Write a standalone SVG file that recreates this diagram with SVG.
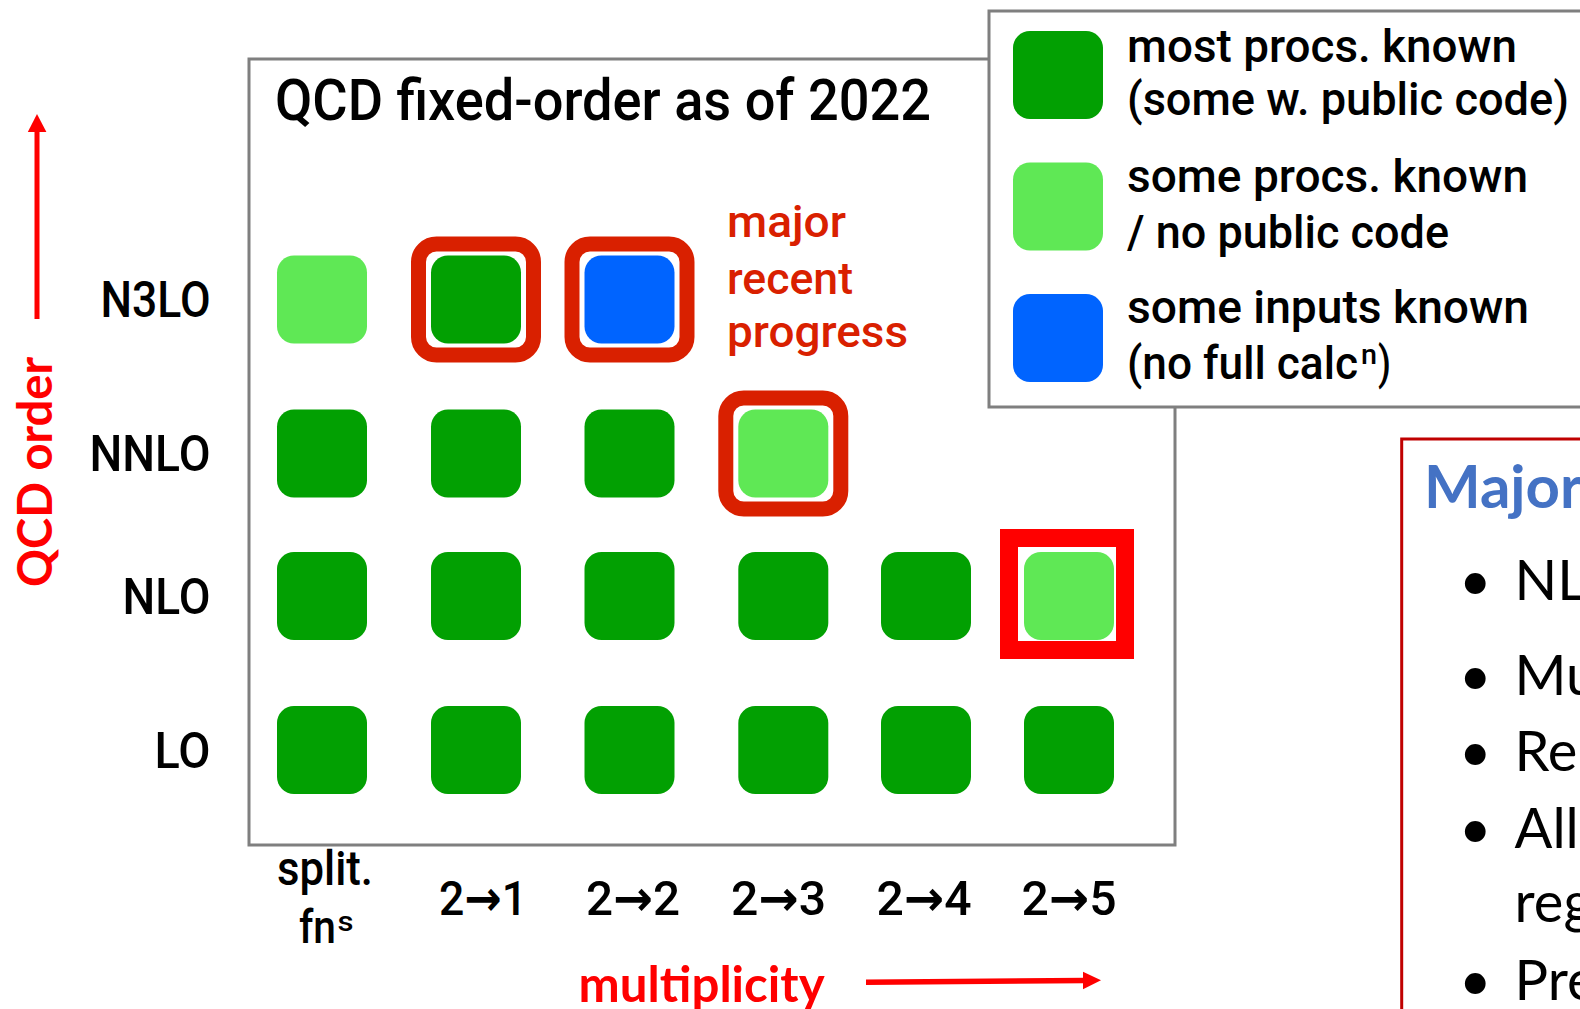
<svg xmlns="http://www.w3.org/2000/svg" width="1580" height="1009" viewBox="0 0 1580 1009">
<style>
  .din{font-family:Roboto,"Liberation Sans",sans-serif;font-weight:500;fill:#000}
  .lbl{font-size:50px;text-anchor:end}
  .col{font-size:49px;text-anchor:middle}
  .arr{font-family:"DejaVu Sans",sans-serif;font-weight:700}
  .leg{font-size:47px}
  .prog{font-size:45px;fill:#D92000}
  .cal{font-family:Lato,"Open Sans",sans-serif}
  .axis{font-weight:700;fill:#FF0000}
  .dk{fill:#02A002}
  .lt{fill:#5FE855}
  .bl{fill:#0064FF}
  .ring{fill:none;stroke:#D92000;stroke-width:15}
  .frame{fill:#fff;stroke:#7F7F7F;stroke-width:3}
  .bul{font-size:56px;fill:#000}
</style>
<rect width="1580" height="1009" fill="#fff"/>

<g id="main-frame">
  <rect class="frame" x="249" y="59" width="926" height="786"/>
  <text class="din" x="275" y="120" font-size="57" textLength="656" lengthAdjust="spacingAndGlyphs">QCD fixed-order as of 2022</text>
</g>

<g id="row-labels">
  <text class="din lbl" x="210.5" y="317" textLength="110" lengthAdjust="spacingAndGlyphs">N3LO</text>
  <text class="din lbl" x="210.5" y="471" textLength="121" lengthAdjust="spacingAndGlyphs">NNLO</text>
  <text class="din lbl" x="210.5" y="614" textLength="88" lengthAdjust="spacingAndGlyphs">NLO</text>
  <text class="din lbl" x="210.5" y="768" textLength="56" lengthAdjust="spacingAndGlyphs">LO</text>
</g>

<g id="grid">
  <g id="row-n3lo">
    <rect class="lt" x="277" y="255.5" width="90" height="88" rx="17"/>
    <rect class="dk" x="431" y="255.5" width="90" height="88" rx="17"/>
    <rect class="bl" x="584.5" y="255.5" width="90" height="88" rx="17"/>
  </g>
  <g id="row-nnlo">
    <rect class="dk" x="277" y="409.5" width="90" height="88" rx="17"/>
    <rect class="dk" x="431" y="409.5" width="90" height="88" rx="17"/>
    <rect class="dk" x="584.5" y="409.5" width="90" height="88" rx="17"/>
    <rect class="lt" x="738.3" y="409.5" width="90" height="88" rx="17"/>
  </g>
  <g id="row-nlo">
    <rect class="dk" x="277" y="552" width="90" height="88" rx="17"/>
    <rect class="dk" x="431" y="552" width="90" height="88" rx="17"/>
    <rect class="dk" x="584.5" y="552" width="90" height="88" rx="17"/>
    <rect class="dk" x="738.3" y="552" width="90" height="88" rx="17"/>
    <rect class="dk" x="881" y="552" width="90" height="88" rx="17"/>
    <rect class="lt" x="1024" y="552" width="90" height="88" rx="17"/>
  </g>
  <g id="row-lo">
    <rect class="dk" x="277" y="706" width="90" height="88" rx="17"/>
    <rect class="dk" x="431" y="706" width="90" height="88" rx="17"/>
    <rect class="dk" x="584.5" y="706" width="90" height="88" rx="17"/>
    <rect class="dk" x="738.3" y="706" width="90" height="88" rx="17"/>
    <rect class="dk" x="881" y="706" width="90" height="88" rx="17"/>
    <rect class="dk" x="1024" y="706" width="90" height="88" rx="17"/>
  </g>
</g>

<g id="highlights">
  <rect class="ring" x="418.5" y="244" width="115" height="111" rx="18"/>
  <rect class="ring" x="572" y="244" width="115" height="111" rx="18"/>
  <rect class="ring" x="725.8" y="398" width="115" height="111" rx="18"/>
  <rect x="1009" y="538" width="116" height="112" fill="none" stroke="#FF0000" stroke-width="18"/>
</g>

<g id="progress-note">
  <text class="din prog" x="727" y="237" textLength="119" lengthAdjust="spacingAndGlyphs">major</text>
  <text class="din prog" x="727" y="294" textLength="126" lengthAdjust="spacingAndGlyphs">recent</text>
  <text class="din prog" x="727" y="347" textLength="181" lengthAdjust="spacingAndGlyphs">progress</text>
</g>

<g id="legend">
  <rect class="frame" x="989" y="11" width="700" height="396"/>
  <rect class="dk" x="1013" y="31" width="90" height="88" rx="17"/>
  <rect class="lt" x="1013" y="162.5" width="90" height="88" rx="17"/>
  <rect class="bl" x="1013" y="294" width="90" height="88" rx="17"/>
  <text class="din leg" x="1127" y="62" textLength="390" lengthAdjust="spacingAndGlyphs">most procs. known</text>
  <text class="din leg" x="1127" y="115" textLength="442" lengthAdjust="spacingAndGlyphs">(some w. public code)</text>
  <text class="din leg" x="1127" y="192" textLength="401" lengthAdjust="spacingAndGlyphs">some procs. known</text>
  <text class="din leg" x="1127" y="248" textLength="322" lengthAdjust="spacingAndGlyphs">/ no public code</text>
  <text class="din leg" x="1127" y="323" textLength="402" lengthAdjust="spacingAndGlyphs">some inputs known</text>
  <text class="din leg" x="1127" y="379" textLength="231" lengthAdjust="spacingAndGlyphs">(no full calc</text>
  <text class="din" x="1361" y="364" font-size="28" textLength="16" lengthAdjust="spacingAndGlyphs">n</text>
  <text class="din leg" x="1378" y="379" textLength="13" lengthAdjust="spacingAndGlyphs">)</text>
</g>

<g id="column-labels">
  <text class="din col" x="325" y="885" font-size="47" textLength="96" lengthAdjust="spacingAndGlyphs">split.</text>
  <text class="din" x="299" y="943" font-size="47" textLength="37" lengthAdjust="spacingAndGlyphs">fn</text>
  <text class="din" x="337.5" y="931" font-size="28" textLength="16" lengthAdjust="spacingAndGlyphs">s</text>
  <text class="din col" x="483" y="915" textLength="88" lengthAdjust="spacingAndGlyphs">2<tspan class="arr">→</tspan>1</text>
  <text class="din col" x="633" y="915" textLength="94" lengthAdjust="spacingAndGlyphs">2<tspan class="arr">→</tspan>2</text>
  <text class="din col" x="778.5" y="915" textLength="95" lengthAdjust="spacingAndGlyphs">2<tspan class="arr">→</tspan>3</text>
  <text class="din col" x="924" y="915" textLength="95" lengthAdjust="spacingAndGlyphs">2<tspan class="arr">→</tspan>4</text>
  <text class="din col" x="1069" y="915" textLength="95" lengthAdjust="spacingAndGlyphs">2<tspan class="arr">→</tspan>5</text>
</g>

<g id="axis-labels">
  <text class="cal axis" x="52" y="587" font-size="47" transform="rotate(-90 52 587)" textLength="230" lengthAdjust="spacingAndGlyphs">QCD order</text>
  <text class="cal axis" x="578.6" y="1002" font-size="50" textLength="246" lengthAdjust="spacingAndGlyphs">multiplicity</text>
</g>

<g id="connectors">
  <line x1="37" y1="319" x2="37" y2="130" stroke="#FF0000" stroke-width="5"/>
  <polygon points="37,114 27.8,132 46.4,132" fill="#FF0000"/>
  <line x1="866" y1="982.3" x2="1085" y2="980.5" stroke="#FF0000" stroke-width="5.5"/>
  <polygon points="1101,980.3 1083,971.7 1083,989.3" fill="#FF0000"/>
</g>

<g id="summary-box">
  <rect x="1401.7" y="439" width="300" height="700" fill="none" stroke="#C00000" stroke-width="3"/>
  <text class="cal" x="1424" y="508" font-size="60" font-weight="700" fill="#4472C4">Major</text>
  <text class="cal bul" x="1459" y="600">•</text>
  <text class="cal bul" x="1514.6" y="600">NL</text>
  <text class="cal bul" x="1459" y="695">•</text>
  <text class="cal bul" x="1514.6" y="695">Mu</text>
  <text class="cal bul" x="1459" y="771">•</text>
  <text class="cal bul" x="1514.6" y="771">Re</text>
  <text class="cal bul" x="1459" y="848">•</text>
  <text class="cal bul" x="1514.6" y="848">All</text>
  <text class="cal bul" x="1514.6" y="922">reg</text>
  <text class="cal bul" x="1459" y="1000">•</text>
  <text class="cal bul" x="1514.6" y="1000">Pre</text>
</g>
</svg>
